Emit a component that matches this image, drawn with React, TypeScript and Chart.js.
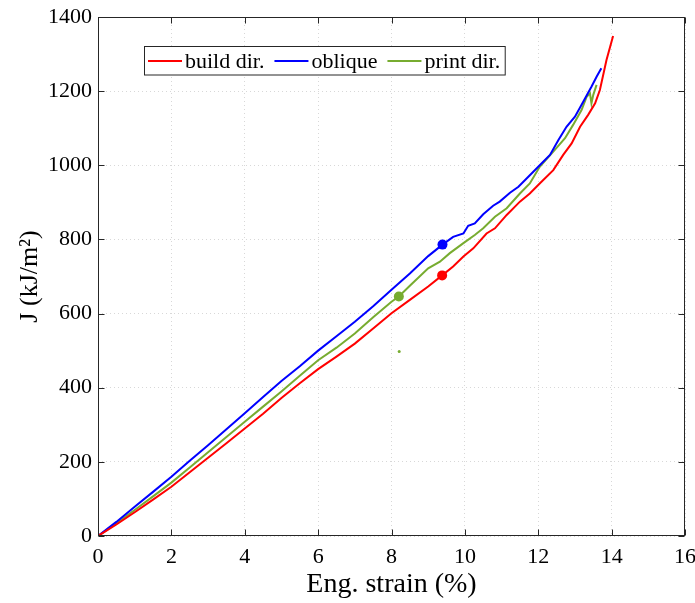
import React, { useEffect, useRef } from 'react';
import { Chart, registerables } from 'chart.js';

Chart.register(...registerables);

const FONT = "'Liberation Serif', 'Times New Roman', serif";

// build dir. (red)
const buildStrain = [0, 0.5, 1, 1.5, 2, 2.5, 3, 3.5, 4, 4.5, 5, 5.5, 6, 6.5, 7, 7.5, 8, 8.5, 9, 9.38, 9.68, 9.96, 10.23, 10.59, 10.82, 11.14, 11.5, 11.77, 12.04, 12.41, 12.68, 12.91, 13.14, 13.36, 13.55, 13.68, 13.86, 14.04];
const buildJ = [0, 31, 64, 98, 133, 172, 211, 250, 290, 330, 372, 412, 450, 484, 519, 560, 601, 637, 673, 703, 727, 754, 776, 816, 830, 866, 902, 924, 951, 987, 1028, 1059, 1104, 1136, 1167, 1203, 1284, 1349];

// oblique (blue)
const obliqueStrain = [0, 0.5, 1, 1.5, 2, 2.5, 3, 3.5, 4, 4.5, 5, 5.5, 6, 6.5, 7, 7.5, 8, 8.5, 9, 9.39, 9.68, 9.96, 10.09, 10.27, 10.5, 10.77, 10.95, 11.23, 11.46, 11.73, 12, 12.32, 12.55, 12.77, 13, 13.23, 13.45, 13.59, 13.72];
const obliqueJ = [0, 38, 79, 119, 160, 203, 245, 288, 331, 375, 418, 458, 500, 539, 578, 620, 664, 708, 755, 786, 807, 816, 837, 843, 868, 891, 902, 926, 942, 969, 996, 1028, 1068, 1104, 1131, 1172, 1212, 1239, 1262];

// print dir. (green)
const printStrain = [0, 0.5, 1, 1.5, 2, 2.5, 3, 3.5, 4, 4.5, 5, 5.5, 6, 6.5, 7, 7.5, 8, 8.2, 8.5, 9, 9.32, 9.59, 9.96, 10.27, 10.5, 10.82, 11.14, 11.5, 11.77, 12.04, 12.41, 12.73, 12.95, 13.18, 13.32, 13.41, 13.45, 13.5, 13.59];
const printJ = [0, 34, 70, 107, 144, 185, 226, 267, 308, 349, 390, 432, 474, 508, 546, 590, 632, 646, 675, 722, 740, 763, 790, 812, 830, 861, 884, 924, 951, 996, 1037, 1073, 1109, 1149, 1185, 1194, 1167, 1190, 1217];

// marked points
const markStrain = [9.38, 9.39, 8.2];
const markJ = [703, 786, 646];
const strayStrain = [8.21];
const strayJ = [498];

const seriesNames = ['build dir.', 'oblique', 'print dir.'];
const seriesColors = ['#ff0000', '#0000ff', '#77ac30'];

const xTicks = [0, 2, 4, 6, 8, 10, 12, 14, 16];
const yTicks = [0, 200, 400, 600, 800, 1000, 1200, 1400];

const toPts = (xs: number[], ys: number[]) => xs.map((x, i) => ({ x, y: ys[i] }));

const framePlugin = {
  id: 'frame',
  afterDatasetsDraw(chart: any) {
    const { ctx, chartArea: a, scales } = chart;
    const L = Math.round(a.left) + 0.5;
    const R = Math.round(a.right) - 0.5;
    const T = Math.round(a.top) + 0.5;
    const B = Math.round(a.bottom) - 0.5;
    ctx.save();
    ctx.strokeStyle = '#262626';
    ctx.lineWidth = 1;
    ctx.setLineDash([]);
    ctx.strokeRect(L, T, R - L, B - T);
    const tl = 6;
    ctx.beginPath();
    for (const v of xTicks) {
      const px = Math.round(scales.x.getPixelForValue(v)) + 0.5;
      ctx.moveTo(px, B); ctx.lineTo(px, B - tl);
      ctx.moveTo(px, T); ctx.lineTo(px, T + tl);
    }
    for (const v of yTicks) {
      const py = Math.round(scales.y.getPixelForValue(v)) + 0.5;
      ctx.moveTo(L, py); ctx.lineTo(L + tl, py);
      ctx.moveTo(R, py); ctx.lineTo(R - tl, py);
    }
    ctx.stroke();

    // legend
    ctx.font = `22px ${FONT}`;
    ctx.textBaseline = 'middle';
    ctx.textAlign = 'left';
    const boxL = 144.5, boxT = 46.5, boxH = 28.5;
    const cy = 61;
    let x = 148;
    const items: { lx: number; tx: number; w: number }[] = [];
    seriesNames.forEach((n) => {
      const w = ctx.measureText(n).width;
      items.push({ lx: x, tx: x + 37, w });
      x = x + 37 + w + 10;
    });
    const boxR = x - 10 + 5;
    ctx.fillStyle = '#ffffff';
    ctx.fillRect(boxL, boxT, boxR - boxL, boxH);
    ctx.strokeStyle = '#262626';
    ctx.strokeRect(boxL, boxT, boxR - boxL, boxH);
    items.forEach((it, i) => {
      ctx.strokeStyle = seriesColors[i];
      ctx.lineWidth = 2;
      ctx.beginPath();
      ctx.moveTo(it.lx, cy); ctx.lineTo(it.lx + 34, cy);
      ctx.stroke();
      ctx.fillStyle = '#000000';
      ctx.fillText(seriesNames[i], it.tx, cy + 1);
    });
    ctx.restore();
  },
};

export default function App() {
  const ref = useRef<HTMLCanvasElement | null>(null);
  useEffect(() => {
    document.body.style.margin = '0';
    const canvas = ref.current;
    if (!canvas) return;
    const chart = new Chart(canvas, {
      type: 'line',
      data: {
        datasets: [
          { label: seriesNames[0], data: toPts(buildStrain, buildJ), borderColor: seriesColors[0], borderWidth: 2, pointRadius: 0, fill: false, tension: 0 },
          { label: seriesNames[1], data: toPts(obliqueStrain, obliqueJ), borderColor: seriesColors[1], borderWidth: 2, pointRadius: 0, fill: false, tension: 0 },
          { label: seriesNames[2], data: toPts(printStrain, printJ), borderColor: seriesColors[2], borderWidth: 2, pointRadius: 0, fill: false, tension: 0 },
          {
            label: 'marks', data: toPts(markStrain, markJ), showLine: false,
            pointRadius: 5, pointBorderWidth: 0,
            pointBackgroundColor: [seriesColors[0], seriesColors[1], seriesColors[2]],
            pointBorderColor: [seriesColors[0], seriesColors[1], seriesColors[2]],
          },
          {
            label: 'stray', data: toPts(strayStrain, strayJ), showLine: false,
            pointRadius: 1.5, pointBorderWidth: 0,
            pointBackgroundColor: seriesColors[2], pointBorderColor: seriesColors[2],
          },
        ],
      },
      options: {
        responsive: false,
        animation: false,
        layout: { padding: { top: 17, right: 10, left: 0, bottom: 0 } },
        plugins: { legend: { display: false }, tooltip: { enabled: false } },
        scales: {
          x: {
            type: 'linear', min: 0, max: 16,
            afterBuildTicks: (s: any) => { s.ticks = xTicks.map((v) => ({ value: v })); },
            afterFit: (s: any) => { s.height = 67; s.paddingRight = 0; s.paddingLeft = 0; },
            grid: { color: '#d8d8d8', drawTicks: false, lineWidth: 1 },
            border: { display: false, dash: [1, 3] },
            ticks: { font: { family: FONT, size: 22 }, color: '#000', padding: 8, maxRotation: 0, callback: (v: any) => String(v) },
            title: { display: true, text: 'Eng. strain (%)', font: { family: FONT, size: 28 }, color: '#000', padding: { top: 0, bottom: 2 } },
          },
          y: {
            type: 'linear', min: 0, max: 1400,
            afterBuildTicks: (s: any) => { s.ticks = yTicks.map((v) => ({ value: v })); },
            afterFit: (s: any) => { s.width = 98; s.paddingTop = 0; s.paddingBottom = 0; },
            grid: { color: '#d8d8d8', drawTicks: false, lineWidth: 1 },
            border: { display: false, dash: [1, 3] },
            ticks: { font: { family: FONT, size: 22 }, color: '#000', padding: 6, callback: (v: any) => String(v) },
            title: { display: true, text: 'J (kJ/m²)', font: { family: FONT, size: 26 }, color: '#000', padding: { top: 15, bottom: 0 } },
          },
        },
      },
      plugins: [framePlugin],
    } as any);
    return () => chart.destroy();
  }, []);
  return (
    <div style={{ width: 695, height: 603 }}>
      <canvas ref={ref} width={695} height={603} />
    </div>
  );
}
